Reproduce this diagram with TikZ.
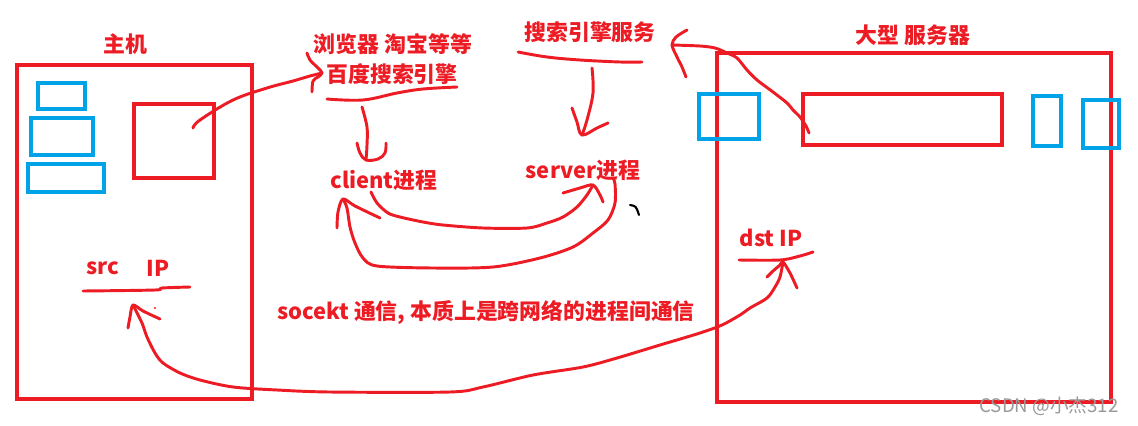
\documentclass[tikz,border=0pt]{standalone}
\usepackage{fontspec}
\setmainfont{Noto Sans CJK SC}
\definecolor{pred}{HTML}{ED1C24}
\definecolor{pblue}{HTML}{00A2E8}
\begin{document}
\begin{tikzpicture}[x=0.75pt,y=-0.75pt,
  bigbox/.style={draw=pred,line width=3.6pt},
  innerbox/.style={draw=pred,line width=3.2pt},
  bluebox/.style={draw=pblue,line width=3pt},
  pen/.style={draw=pred,line width=2.2pt,line cap=round,line join=round},
  lbl/.style={text=pred,font=\fontsize{16.4pt}{17pt}\selectfont\bfseries,inner sep=0pt},
  wm/.style={text=black!40,font=\fontsize{14pt}{15pt}\selectfont,inner sep=0pt}]
\useasboundingbox (0,0) rectangle (1138,425);
\fill[white] (0,0) rectangle (1138,425);

% host
\draw[bigbox] (17,65) rectangle (252,399);
\draw[bluebox] (38,83) rectangle (85,109);
\draw[bluebox] (31,118) rectangle (93,155);
\draw[bluebox] (28,164) rectangle (104,192);
\draw[innerbox] (134,104) rectangle (214,178);
\node[lbl] (host) at (125,44) {主机};

% server
\draw[bigbox] (717,53) rectangle (1111,402);
\draw[innerbox] (803,94) rectangle (1002,145);
\draw[bluebox] (699,94) rectangle (759,139);
\draw[bluebox] (1033,96) rectangle (1061,146);
\draw[bluebox] (1083,100) rectangle (1119,148);
\node[lbl] (srv) at (913,35) {大型 服务器};

% labels
\node[lbl] (browser) at (393,44) {浏览器 淘宝等等};
\node[lbl] (baidu) at (392,74) {百度搜索引擎};
\node[lbl] (sesvc) at (590,32) {搜索引擎服务};
\node[lbl] (client) at (384,180) {client进程};
\node[lbl] (server) at (583,170) {server进程};
\node[lbl] (src) at (103,268) {src};
\node[lbl] (ip) at (158,268) {IP};
\node[lbl] (dst) at (771,238) {dst IP};
\node[lbl] (sock) at (486,312) {socekt 通信, 本质上是跨网络的进程间通信};
\node[wm] (csdn) at (1049,406) {CSDN @小杰312};

% named coordinates
\coordinate (pc) at (193,128);
\coordinate (tipA) at (322,73);
\coordinate (tipB) at (366,160);
\coordinate (tipC) at (582,135);
\coordinate (cs) at (371,192);
\coordinate (tipD) at (593,185);
\coordinate (ss) at (613,178);
\coordinate (tipE) at (343,199);
\coordinate (tipF) at (133,305);
\coordinate (tipG) at (783,262);
\coordinate (sv) at (809,133);
\coordinate (tipH) at (672,45);

% host box -> baidu
\draw[pen] plot[smooth,tension=0.6] coordinates {(pc) (200,120) (233,100) (267,88) (293,81) (310,76) (tipA)};
\draw[pen] plot[smooth,tension=0.6] coordinates {(307,53) (310,60) (318,68) (tipA) (318,77) (313,81) (312,92)};
% underline baidu
\draw[pen] plot[smooth,tension=0.6] coordinates {(327,99) (363,100) (397,93) (423,89) (457,87)};
% baidu -> client
\draw[pen] plot[smooth,tension=0.6] coordinates {(362,107) (367,127) (367,145) (tipB)};
\draw[pen] plot[smooth,tension=0.6] coordinates {(357,143) (360,153) (tipB) (378,159) (385,153) (386,143)};
% search service underline
\draw[pen] plot[smooth,tension=0.6] coordinates {(518,52) (547,57) (580,60) (620,62) (642,62)};
% -> server
\draw[pen] plot[smooth,tension=0.6] coordinates {(592,68) (593,93) (587,120) (tipC)};
\draw[pen] plot[smooth,tension=0.6] coordinates {(572,108) (577,122) (tipC) (597,128) (608,123)};
% client -> server
\draw[pen] plot[smooth,tension=0.5] coordinates {(cs) (377,203) (388,213) (400,217) (423,222) (443,225) (483,228) (527,228) (547,223) (563,217) (577,207) (587,195) (tipD)};
\draw[pen] plot[smooth,tension=0.5] coordinates {(563,193) (580,188) (tipD) (600,195) (603,202)};
% server -> client
\draw[pen] plot[smooth,tension=0.5] coordinates {(ss) (615,184) (615,203) (608,220) (593,233) (573,247) (540,258) (493,267) (433,268) (377,266) (363,258) (355,243) (350,227) (347,208) (tipE)};
\draw[pen] plot[smooth,tension=0.5] coordinates {(337,228) (338,212) (tipE) (355,206) (380,218)};
% black tick
\draw[black,line width=1.6pt,line cap=round] (630,205) .. controls (636,206) .. (639,215);
% src ip underline
\draw[pen] plot[smooth,tension=0.5] coordinates {(83,291) (155,290) (162,288) (190,287)};
% dst ip underline
\draw[pen] plot[smooth,tension=0.5] coordinates {(739,260) (780,260) (800,256) (813,252)};
% big bottom curve
\draw[pen] plot[smooth,tension=0.5] coordinates {(tipF) (142,323) (147,337) (155,353) (163,363) (180,373) (200,380) (233,387) (277,390) (330,392) (450,392) (483,387) (533,375) (583,367) (617,358) (660,345) (700,333) (722,325) (740,315) (750,308) (767,298) (775,287) (780,277) (tipG)};
\draw[pen] plot[smooth,tension=0.5] coordinates {(128,328) (130,317) (tipF) (143,311) (160,319)};
\fill[pred] (155,308) circle (1.2);
\draw[pen] plot[smooth,tension=0.5] coordinates {(767,277) (773,271) (780,265) (tipG) (790,273) (797,288)};
% server box -> search service
\draw[pen] plot[smooth,tension=0.5] coordinates {(sv) (806,126) (800,117) (793,110) (787,103) (773,92) (757,80) (747,70) (737,58) (727,53) (715,48) (700,46) (tipH)};
\draw[pen] plot[smooth,tension=0.5] coordinates {(687,30) (676,37) (tipH) (677,57) (682,67) (686,77)};
\end{tikzpicture}
\end{document}
